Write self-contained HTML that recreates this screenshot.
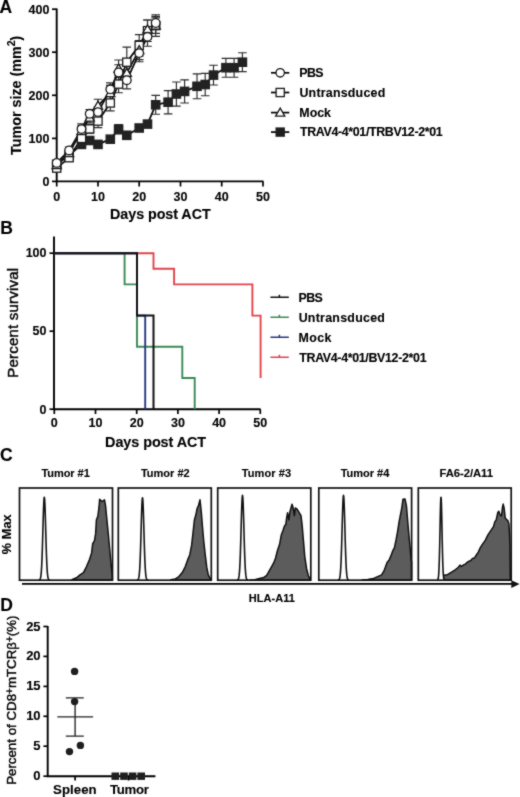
<!DOCTYPE html>
<html><head><meta charset="utf-8"><style>
html,body{margin:0;padding:0;background:#fff;}
svg{display:block;}
text{font-family:"Liberation Sans", sans-serif;fill:#000;stroke:#000;stroke-width:0.12px;}
text.reg{stroke-width:0.42px;}
svg{-webkit-font-smoothing:antialiased;will-change:transform;}
</style></head><body>
<svg width="520" height="797" viewBox="0 0 520 797">
<defs><filter id="soft" x="0" y="0" width="520" height="797" filterUnits="userSpaceOnUse" color-interpolation-filters="sRGB"><feConvolveMatrix order="3" kernelMatrix="1 2 1 2 16 2 1 2 1" divisor="28" edgeMode="duplicate"/></filter></defs>
<g filter="url(#soft)">
<rect width="520" height="797" fill="#fff"/>
<text x="-0.6" y="12.6" font-size="17.5" font-weight="bold">A</text>
<path d="M56.7,8.5 V181.4 H263.5" fill="none" stroke="#000" stroke-width="1.9"/>
<line x1="52" y1="181.4" x2="56.7" y2="181.4" stroke="#000" stroke-width="1.7"/>
<text x="49.4" y="185.7" font-size="12.5" font-weight="bold" text-anchor="end">0</text>
<line x1="52" y1="138.4" x2="56.7" y2="138.4" stroke="#000" stroke-width="1.7"/>
<text x="49.4" y="142.7" font-size="12.5" font-weight="bold" text-anchor="end">100</text>
<line x1="52" y1="95.3" x2="56.7" y2="95.3" stroke="#000" stroke-width="1.7"/>
<text x="49.4" y="99.6" font-size="12.5" font-weight="bold" text-anchor="end">200</text>
<line x1="52" y1="52.2" x2="56.7" y2="52.2" stroke="#000" stroke-width="1.7"/>
<text x="49.4" y="56.5" font-size="12.5" font-weight="bold" text-anchor="end">300</text>
<line x1="52" y1="9.2" x2="56.7" y2="9.2" stroke="#000" stroke-width="1.7"/>
<text x="49.4" y="13.5" font-size="12.5" font-weight="bold" text-anchor="end">400</text>
<line x1="56.7" y1="181.4" x2="56.7" y2="186.5" stroke="#000" stroke-width="1.7"/>
<text x="56.7" y="200.8" font-size="12.5" font-weight="bold" text-anchor="middle">0</text>
<line x1="98.0" y1="181.4" x2="98.0" y2="186.5" stroke="#000" stroke-width="1.7"/>
<text x="98.0" y="200.8" font-size="12.5" font-weight="bold" text-anchor="middle">10</text>
<line x1="139.2" y1="181.4" x2="139.2" y2="186.5" stroke="#000" stroke-width="1.7"/>
<text x="139.2" y="200.8" font-size="12.5" font-weight="bold" text-anchor="middle">20</text>
<line x1="180.5" y1="181.4" x2="180.5" y2="186.5" stroke="#000" stroke-width="1.7"/>
<text x="180.5" y="200.8" font-size="12.5" font-weight="bold" text-anchor="middle">30</text>
<line x1="221.7" y1="181.4" x2="221.7" y2="186.5" stroke="#000" stroke-width="1.7"/>
<text x="221.7" y="200.8" font-size="12.5" font-weight="bold" text-anchor="middle">40</text>
<line x1="263.0" y1="181.4" x2="263.0" y2="186.5" stroke="#000" stroke-width="1.7"/>
<text x="263.0" y="200.8" font-size="12.5" font-weight="bold" text-anchor="middle">50</text>
<text x="110.04" y="219.2" font-size="14.3" font-weight="bold" textLength="100.61" lengthAdjust="spacing">Days post ACT</text>
<text transform="translate(21,95.3) rotate(-90)" font-size="14.3" font-weight="bold" text-anchor="middle">Tumor size (mm<tspan font-size="10.5" dy="-6.5">2</tspan><tspan dy="6.5">)</tspan></text>
<path d="M56.7,165.9V170.2M52.4,165.9H61.0M52.4,170.2H61.0" stroke="#2a2a2a" stroke-width="1.15" fill="none"/>
<path d="M69.1,154.3V161.2M64.8,154.3H73.4M64.8,161.2H73.4" stroke="#2a2a2a" stroke-width="1.15" fill="none"/>
<path d="M81.5,133.2V143.5M77.2,133.2H85.8M77.2,143.5H85.8" stroke="#2a2a2a" stroke-width="1.15" fill="none"/>
<path d="M89.7,124.6V133.2M85.4,124.6H94.0M85.4,133.2H94.0" stroke="#2a2a2a" stroke-width="1.15" fill="none"/>
<path d="M98.0,114.7V127.6M93.7,114.7H102.3M93.7,127.6H102.3" stroke="#2a2a2a" stroke-width="1.15" fill="none"/>
<path d="M110.3,95.3V110.8M106.0,95.3H114.6M106.0,110.8H114.6" stroke="#2a2a2a" stroke-width="1.15" fill="none"/>
<path d="M118.6,75.5V92.7M114.3,75.5H122.9M114.3,92.7H122.9" stroke="#2a2a2a" stroke-width="1.15" fill="none"/>
<path d="M126.8,47.1V77.2M122.5,47.1H131.1M122.5,77.2H131.1" stroke="#2a2a2a" stroke-width="1.15" fill="none"/>
<path d="M139.2,34.6V56.1M134.9,34.6H143.5M134.9,56.1H143.5" stroke="#2a2a2a" stroke-width="1.15" fill="none"/>
<path d="M147.5,20.0V41.5M143.2,20.0H151.8M143.2,41.5H151.8" stroke="#2a2a2a" stroke-width="1.15" fill="none"/>
<path d="M155.7,14.8V36.3M151.4,14.8H160.0M151.4,36.3H160.0" stroke="#2a2a2a" stroke-width="1.15" fill="none"/>
<path d="M56.7,162.9V167.2M52.4,162.9H61.0M52.4,167.2H61.0" stroke="#2a2a2a" stroke-width="1.15" fill="none"/>
<path d="M69.1,149.5V156.4M64.8,149.5H73.4M64.8,156.4H73.4" stroke="#2a2a2a" stroke-width="1.15" fill="none"/>
<path d="M81.5,125.9V136.2M77.2,125.9H85.8M77.2,136.2H85.8" stroke="#2a2a2a" stroke-width="1.15" fill="none"/>
<path d="M89.7,112.5V122.9M85.4,112.5H94.0M85.4,122.9H94.0" stroke="#2a2a2a" stroke-width="1.15" fill="none"/>
<path d="M98.0,99.2V112.1M93.7,99.2H102.3M93.7,112.1H102.3" stroke="#2a2a2a" stroke-width="1.15" fill="none"/>
<path d="M110.3,85.4V100.9M106.0,85.4H114.6M106.0,100.9H114.6" stroke="#2a2a2a" stroke-width="1.15" fill="none"/>
<path d="M118.6,60.0V77.2M114.3,60.0H122.9M114.3,77.2H122.9" stroke="#2a2a2a" stroke-width="1.15" fill="none"/>
<path d="M126.8,64.3V81.5M122.5,64.3H131.1M122.5,81.5H131.1" stroke="#2a2a2a" stroke-width="1.15" fill="none"/>
<path d="M139.2,40.6V59.6M134.9,40.6H143.5M134.9,59.6H143.5" stroke="#2a2a2a" stroke-width="1.15" fill="none"/>
<path d="M147.5,20.0V38.9M143.2,20.0H151.8M143.2,38.9H151.8" stroke="#2a2a2a" stroke-width="1.15" fill="none"/>
<path d="M155.7,17.8V33.3M151.4,17.8H160.0M151.4,33.3H160.0" stroke="#2a2a2a" stroke-width="1.15" fill="none"/>
<path d="M56.7,160.7V165.0M52.4,160.7H61.0M52.4,165.0H61.0" stroke="#2a2a2a" stroke-width="1.15" fill="none"/>
<path d="M69.1,147.0V153.8M64.8,147.0H73.4M64.8,153.8H73.4" stroke="#2a2a2a" stroke-width="1.15" fill="none"/>
<path d="M81.5,123.9V134.3M77.2,123.9H85.8M77.2,134.3H85.8" stroke="#2a2a2a" stroke-width="1.15" fill="none"/>
<path d="M89.7,109.5V118.1M85.4,109.5H94.0M85.4,118.1H94.0" stroke="#2a2a2a" stroke-width="1.15" fill="none"/>
<path d="M98.0,106.9V117.3M93.7,106.9H102.3M93.7,117.3H102.3" stroke="#2a2a2a" stroke-width="1.15" fill="none"/>
<path d="M110.3,82.8V95.7M106.0,82.8H114.6M106.0,95.7H114.6" stroke="#2a2a2a" stroke-width="1.15" fill="none"/>
<path d="M118.6,64.7V80.2M114.3,64.7H122.9M114.3,80.2H122.9" stroke="#2a2a2a" stroke-width="1.15" fill="none"/>
<path d="M126.8,71.6V88.8M122.5,71.6H131.1M122.5,88.8H131.1" stroke="#2a2a2a" stroke-width="1.15" fill="none"/>
<path d="M139.2,44.5V61.7M134.9,44.5H143.5M134.9,61.7H143.5" stroke="#2a2a2a" stroke-width="1.15" fill="none"/>
<path d="M147.5,27.3V46.2M143.2,27.3H151.8M143.2,46.2H151.8" stroke="#2a2a2a" stroke-width="1.15" fill="none"/>
<path d="M155.7,16.5V29.4M151.4,16.5H160.0M151.4,29.4H160.0" stroke="#2a2a2a" stroke-width="1.15" fill="none"/>
<path d="M56.7,162.0V166.3M52.4,162.0H61.0M52.4,166.3H61.0" stroke="#2a2a2a" stroke-width="1.15" fill="none"/>
<path d="M69.1,153.0V158.2M64.8,153.0H73.4M64.8,158.2H73.4" stroke="#2a2a2a" stroke-width="1.15" fill="none"/>
<path d="M81.5,141.8V147.0M77.2,141.8H85.8M77.2,147.0H85.8" stroke="#2a2a2a" stroke-width="1.15" fill="none"/>
<path d="M89.7,137.9V143.1M85.4,137.9H94.0M85.4,143.1H94.0" stroke="#2a2a2a" stroke-width="1.15" fill="none"/>
<path d="M98.0,141.8V147.0M93.7,141.8H102.3M93.7,147.0H102.3" stroke="#2a2a2a" stroke-width="1.15" fill="none"/>
<path d="M110.3,136.2V142.2M106.0,136.2H114.6M106.0,142.2H114.6" stroke="#2a2a2a" stroke-width="1.15" fill="none"/>
<path d="M118.6,124.6V134.0M114.3,124.6H122.9M114.3,134.0H122.9" stroke="#2a2a2a" stroke-width="1.15" fill="none"/>
<path d="M126.8,131.9V138.8M122.5,131.9H131.1M122.5,138.8H131.1" stroke="#2a2a2a" stroke-width="1.15" fill="none"/>
<path d="M139.2,125.4V130.6M134.9,125.4H143.5M134.9,130.6H143.5" stroke="#2a2a2a" stroke-width="1.15" fill="none"/>
<path d="M147.5,121.6V126.7M143.2,121.6H151.8M143.2,126.7H151.8" stroke="#2a2a2a" stroke-width="1.15" fill="none"/>
<path d="M155.7,95.3V114.2M151.4,95.3H160.0M151.4,114.2H160.0" stroke="#2a2a2a" stroke-width="1.15" fill="none"/>
<path d="M168.1,90.6V113.8M163.8,90.6H172.4M163.8,113.8H172.4" stroke="#2a2a2a" stroke-width="1.15" fill="none"/>
<path d="M176.4,82.0V106.1M172.1,82.0H180.7M172.1,106.1H180.7" stroke="#2a2a2a" stroke-width="1.15" fill="none"/>
<path d="M184.6,79.8V103.0M180.3,79.8H188.9M180.3,103.0H188.9" stroke="#2a2a2a" stroke-width="1.15" fill="none"/>
<path d="M197.0,73.8V98.7M192.7,73.8H201.3M192.7,98.7H201.3" stroke="#2a2a2a" stroke-width="1.15" fill="none"/>
<path d="M205.2,73.3V95.7M200.9,73.3H209.5M200.9,95.7H209.5" stroke="#2a2a2a" stroke-width="1.15" fill="none"/>
<path d="M213.5,65.2V85.0M209.2,65.2H217.8M209.2,85.0H217.8" stroke="#2a2a2a" stroke-width="1.15" fill="none"/>
<path d="M225.9,58.3V77.2M221.6,58.3H230.2M221.6,77.2H230.2" stroke="#2a2a2a" stroke-width="1.15" fill="none"/>
<path d="M234.1,58.3V77.2M229.8,58.3H238.4M229.8,77.2H238.4" stroke="#2a2a2a" stroke-width="1.15" fill="none"/>
<path d="M242.4,52.7V71.6M238.1,52.7H246.7M238.1,71.6H246.7" stroke="#2a2a2a" stroke-width="1.15" fill="none"/>
<polyline points="56.7,168.1 69.1,157.7 81.5,138.4 89.7,128.9 98.0,121.1 110.3,103.0 118.6,84.1 126.8,62.2 139.2,45.4 147.5,30.7 155.7,25.6" fill="none" stroke="#111" stroke-width="1.8"/>
<polyline points="56.7,165.0 69.1,153.0 81.5,131.0 89.7,117.7 98.0,105.6 110.3,93.1 118.6,68.6 126.8,72.9 139.2,50.1 147.5,29.4 155.7,25.6" fill="none" stroke="#111" stroke-width="1.8"/>
<polyline points="56.7,162.9 69.1,150.4 81.5,129.1 89.7,113.8 98.0,112.1 110.3,89.3 118.6,72.5 126.8,80.2 139.2,53.1 147.5,36.8 155.7,23.0" fill="none" stroke="#111" stroke-width="1.8"/>
<polyline points="56.7,164.2 69.1,155.6 81.5,144.4 89.7,140.5 98.0,144.4 110.3,139.2 118.6,129.3 126.8,135.3 139.2,128.0 147.5,124.1 155.7,104.8 168.1,102.2 176.4,94.0 184.6,91.4 197.0,86.3 205.2,84.5 213.5,75.1 225.9,67.7 234.1,67.7 242.4,62.2" fill="none" stroke="#111" stroke-width="1.8"/>
<rect x="51.9" y="159.4" width="9.6" height="9.6" fill="#222"/>
<rect x="64.3" y="150.8" width="9.6" height="9.6" fill="#222"/>
<rect x="76.7" y="139.6" width="9.6" height="9.6" fill="#222"/>
<rect x="84.9" y="135.7" width="9.6" height="9.6" fill="#222"/>
<rect x="93.2" y="139.6" width="9.6" height="9.6" fill="#222"/>
<rect x="105.5" y="134.4" width="9.6" height="9.6" fill="#222"/>
<rect x="113.8" y="124.5" width="9.6" height="9.6" fill="#222"/>
<rect x="122.0" y="130.5" width="9.6" height="9.6" fill="#222"/>
<rect x="134.4" y="123.2" width="9.6" height="9.6" fill="#222"/>
<rect x="142.7" y="119.3" width="9.6" height="9.6" fill="#222"/>
<rect x="150.9" y="100.0" width="9.6" height="9.6" fill="#222"/>
<rect x="163.3" y="97.4" width="9.6" height="9.6" fill="#222"/>
<rect x="171.6" y="89.2" width="9.6" height="9.6" fill="#222"/>
<rect x="179.8" y="86.6" width="9.6" height="9.6" fill="#222"/>
<rect x="192.2" y="81.5" width="9.6" height="9.6" fill="#222"/>
<rect x="200.4" y="79.7" width="9.6" height="9.6" fill="#222"/>
<rect x="208.7" y="70.3" width="9.6" height="9.6" fill="#222"/>
<rect x="221.1" y="62.9" width="9.6" height="9.6" fill="#222"/>
<rect x="229.3" y="62.9" width="9.6" height="9.6" fill="#222"/>
<rect x="237.6" y="57.4" width="9.6" height="9.6" fill="#222"/>
<rect x="52.6" y="164.0" width="8.2" height="8.2" fill="#fff" stroke="#1a1a1a" stroke-width="1.3"/>
<rect x="65.0" y="153.6" width="8.2" height="8.2" fill="#fff" stroke="#1a1a1a" stroke-width="1.3"/>
<rect x="77.4" y="134.3" width="8.2" height="8.2" fill="#fff" stroke="#1a1a1a" stroke-width="1.3"/>
<rect x="85.6" y="124.8" width="8.2" height="8.2" fill="#fff" stroke="#1a1a1a" stroke-width="1.3"/>
<rect x="93.9" y="117.0" width="8.2" height="8.2" fill="#fff" stroke="#1a1a1a" stroke-width="1.3"/>
<rect x="106.2" y="98.9" width="8.2" height="8.2" fill="#fff" stroke="#1a1a1a" stroke-width="1.3"/>
<rect x="114.5" y="80.0" width="8.2" height="8.2" fill="#fff" stroke="#1a1a1a" stroke-width="1.3"/>
<rect x="122.7" y="58.1" width="8.2" height="8.2" fill="#fff" stroke="#1a1a1a" stroke-width="1.3"/>
<rect x="135.1" y="41.3" width="8.2" height="8.2" fill="#fff" stroke="#1a1a1a" stroke-width="1.3"/>
<rect x="143.4" y="26.6" width="8.2" height="8.2" fill="#fff" stroke="#1a1a1a" stroke-width="1.3"/>
<rect x="151.6" y="21.5" width="8.2" height="8.2" fill="#fff" stroke="#1a1a1a" stroke-width="1.3"/>
<path d="M56.7,160.5L61.3,168.5H52.1Z" fill="#fff" stroke="#1a1a1a" stroke-width="1.3"/>
<path d="M69.1,148.5L73.7,156.5H64.5Z" fill="#fff" stroke="#1a1a1a" stroke-width="1.3"/>
<path d="M81.5,126.5L86.1,134.5H76.9Z" fill="#fff" stroke="#1a1a1a" stroke-width="1.3"/>
<path d="M89.7,113.2L94.3,121.2H85.1Z" fill="#fff" stroke="#1a1a1a" stroke-width="1.3"/>
<path d="M98.0,101.1L102.6,109.1H93.4Z" fill="#fff" stroke="#1a1a1a" stroke-width="1.3"/>
<path d="M110.3,88.6L114.9,96.6H105.7Z" fill="#fff" stroke="#1a1a1a" stroke-width="1.3"/>
<path d="M118.6,64.1L123.2,72.1H114.0Z" fill="#fff" stroke="#1a1a1a" stroke-width="1.3"/>
<path d="M126.8,68.4L131.4,76.4H122.2Z" fill="#fff" stroke="#1a1a1a" stroke-width="1.3"/>
<path d="M139.2,45.6L143.8,53.6H134.6Z" fill="#fff" stroke="#1a1a1a" stroke-width="1.3"/>
<path d="M147.5,24.9L152.1,32.9H142.9Z" fill="#fff" stroke="#1a1a1a" stroke-width="1.3"/>
<path d="M155.7,21.1L160.3,29.1H151.1Z" fill="#fff" stroke="#1a1a1a" stroke-width="1.3"/>
<circle cx="56.7" cy="162.9" r="4.3" fill="#fff" stroke="#1a1a1a" stroke-width="1.3"/>
<circle cx="69.1" cy="150.4" r="4.3" fill="#fff" stroke="#1a1a1a" stroke-width="1.3"/>
<circle cx="81.5" cy="129.1" r="4.3" fill="#fff" stroke="#1a1a1a" stroke-width="1.3"/>
<circle cx="89.7" cy="113.8" r="4.3" fill="#fff" stroke="#1a1a1a" stroke-width="1.3"/>
<circle cx="98.0" cy="112.1" r="4.3" fill="#fff" stroke="#1a1a1a" stroke-width="1.3"/>
<circle cx="110.3" cy="89.3" r="4.3" fill="#fff" stroke="#1a1a1a" stroke-width="1.3"/>
<circle cx="118.6" cy="72.5" r="4.3" fill="#fff" stroke="#1a1a1a" stroke-width="1.3"/>
<circle cx="126.8" cy="80.2" r="4.3" fill="#fff" stroke="#1a1a1a" stroke-width="1.3"/>
<circle cx="139.2" cy="53.1" r="4.3" fill="#fff" stroke="#1a1a1a" stroke-width="1.3"/>
<circle cx="147.5" cy="36.8" r="4.3" fill="#fff" stroke="#1a1a1a" stroke-width="1.3"/>
<circle cx="155.7" cy="23.0" r="4.3" fill="#fff" stroke="#1a1a1a" stroke-width="1.3"/>
<line x1="271" y1="72.8" x2="289.3" y2="72.8" stroke="#000" stroke-width="1.7"/>
<circle cx="280.2" cy="72.8" r="4.2" fill="#fff" stroke="#1a1a1a" stroke-width="1.3"/>
<text x="299.37" y="77.0" font-size="12.4" font-weight="bold" textLength="24.21" lengthAdjust="spacing">PBS</text>
<line x1="271" y1="92.5" x2="289.3" y2="92.5" stroke="#000" stroke-width="1.7"/>
<rect x="276.09999999999997" y="88.4" width="8.2" height="8.2" fill="#fff" stroke="#1a1a1a" stroke-width="1.3"/>
<text x="299.46" y="96.7" font-size="12.4" font-weight="bold" textLength="85.76" lengthAdjust="spacing">Untransduced</text>
<line x1="271" y1="112.6" x2="289.3" y2="112.6" stroke="#000" stroke-width="1.7"/>
<path d="M280.2,108.1L284.8,116.1H275.59999999999997Z" fill="#fff" stroke="#1a1a1a" stroke-width="1.3"/>
<text x="299.37" y="116.8" font-size="12.4" font-weight="bold" textLength="31.62" lengthAdjust="spacing">Mock</text>
<line x1="271" y1="132.1" x2="289.3" y2="132.1" stroke="#000" stroke-width="1.7"/>
<rect x="275.5" y="127.39999999999999" width="9.4" height="9.4" fill="#1e1e1e"/>
<text x="300.06" y="136.3" font-size="12.4" font-weight="bold" textLength="142.58" lengthAdjust="spacing">TRAV4-4*01/TRBV12-2*01</text>
<text x="0.2" y="233.6" font-size="17.5" font-weight="bold">B</text>
<path d="M54.0,236.5 V409.2 H260.5" fill="none" stroke="#000" stroke-width="1.9"/>
<line x1="49.5" y1="409.2" x2="54.0" y2="409.2" stroke="#000" stroke-width="1.7"/>
<text x="46.5" y="413.6" font-size="12.5" font-weight="bold" text-anchor="end">0</text>
<line x1="49.5" y1="331.2" x2="54.0" y2="331.2" stroke="#000" stroke-width="1.7"/>
<text x="46.5" y="334.6" font-size="12.5" font-weight="bold" text-anchor="end">50</text>
<line x1="49.5" y1="253.2" x2="54.0" y2="253.2" stroke="#000" stroke-width="1.7"/>
<text x="46.5" y="256.6" font-size="12.5" font-weight="bold" text-anchor="end">100</text>
<line x1="54.3" y1="409.2" x2="54.3" y2="414" stroke="#000" stroke-width="1.7"/>
<text x="54.3" y="427.4" font-size="12.5" font-weight="bold" text-anchor="middle">0</text>
<line x1="95.5" y1="409.2" x2="95.5" y2="414" stroke="#000" stroke-width="1.7"/>
<text x="95.5" y="427.4" font-size="12.5" font-weight="bold" text-anchor="middle">10</text>
<line x1="136.7" y1="409.2" x2="136.7" y2="414" stroke="#000" stroke-width="1.7"/>
<text x="136.7" y="427.4" font-size="12.5" font-weight="bold" text-anchor="middle">20</text>
<line x1="177.9" y1="409.2" x2="177.9" y2="414" stroke="#000" stroke-width="1.7"/>
<text x="177.9" y="427.4" font-size="12.5" font-weight="bold" text-anchor="middle">30</text>
<line x1="219.1" y1="409.2" x2="219.1" y2="414" stroke="#000" stroke-width="1.7"/>
<text x="219.1" y="427.4" font-size="12.5" font-weight="bold" text-anchor="middle">40</text>
<line x1="260.3" y1="409.2" x2="260.3" y2="414" stroke="#000" stroke-width="1.7"/>
<text x="260.3" y="427.4" font-size="12.5" font-weight="bold" text-anchor="middle">50</text>
<text x="105.04" y="447" font-size="14.4" font-weight="bold" textLength="101.12" lengthAdjust="spacing">Days post ACT</text>
<text transform="translate(17.5,377.73) rotate(-90)" font-size="15" class="reg" textLength="109.93" lengthAdjust="spacing">Percent survival</text>
<path d="M54.0,253.2H153.5V253.2H153.5V268.8H174.1V268.8H174.1V284.4H252.4V284.4H252.4V315.6H260.6V315.6H260.6V378.0" fill="none" stroke="#e0444a" stroke-width="1.9"/>
<path d="M54.0,253.2H124.6V253.2H124.6V284.4H137.0V284.4H137.0V346.8H182.3V346.8H182.3V378.0H194.7V378.0H194.7V409.2" fill="none" stroke="#3b8a55" stroke-width="1.9"/>
<path d="M54.0,253.2H137.0V253.2H137.0V315.6H145.2V315.6H145.2V409.2" fill="none" stroke="#27397c" stroke-width="1.9"/>
<path d="M54.0,253.2H137.0V253.2H137.0V315.6H153.5V315.6H153.5V409.2" fill="none" stroke="#111" stroke-width="2.0"/>
<path d="M270.4,297.3H288.8M279.4,297.3V294.7" stroke="#111" stroke-width="1.5" fill="none"/>
<text x="298.57" y="301.5" font-size="12.4" font-weight="bold" textLength="24.21" lengthAdjust="spacing">PBS</text>
<path d="M270.4,317.3H288.8M279.4,317.3V314.7" stroke="#3b8a55" stroke-width="1.5" fill="none"/>
<text x="298.66" y="321.5" font-size="12.4" font-weight="bold" textLength="86.26" lengthAdjust="spacing">Untransduced</text>
<path d="M270.4,337.3H288.8M279.4,337.3V334.7" stroke="#27397c" stroke-width="1.5" fill="none"/>
<text x="298.57" y="341.5" font-size="12.4" font-weight="bold" textLength="32.82" lengthAdjust="spacing">Mock</text>
<path d="M270.4,357.3H288.8M279.4,357.3V354.7" stroke="#e0444a" stroke-width="1.5" fill="none"/>
<text x="299.26" y="361.5" font-size="12.4" font-weight="bold" textLength="127.28" lengthAdjust="spacing">TRAV4-4*01/BV12-2*01</text>
<text x="0" y="461.4" font-size="17.5" font-weight="bold">C</text>
<path d="M71.9,580.2L71.9,579.8L76.5,577.8L80,574.9L83.5,572.6L86.4,566.8L89.2,560.4L91.6,552.9L92.7,543.7L94.4,540.8L95.6,533.9L96.4,520L97.9,516L99.1,506.2L99.6,499.2L102,501.5L104.5,499.8L105.6,506.2L106.8,518.9L108.3,533.9L110,552.4L111.2,565.1L112.3,575.5L112.3,580.2Z" fill="#5c5c5c" stroke="#111" stroke-width="1.5" stroke-linejoin="round"/>
<polyline points="38.70,580.17 38.98,580.14 39.26,580.07 39.54,579.94 39.82,579.70 40.10,579.28 40.38,578.55 40.66,577.37 40.94,575.54 41.22,572.82 41.50,568.97 41.78,563.77 42.06,557.12 42.34,549.05 42.62,539.80 42.90,529.86 43.18,519.93 43.46,510.87 43.74,503.58 44.02,498.84 44.30,497.20 44.58,498.84 44.86,503.58 45.14,510.87 45.42,519.93 45.70,529.86 45.98,539.80 46.26,549.05 46.54,557.12 46.82,563.77 47.10,568.97 47.38,572.82 47.66,575.54 47.94,577.37 48.22,578.55 48.50,579.28 48.78,579.70 49.06,579.94 49.34,580.07 49.62,580.14 49.90,580.17" fill="#fff" stroke="#111" stroke-width="1.6" stroke-linejoin="round"/>
<rect x="19.5" y="488.0" width="93.0" height="92.2" fill="none" stroke="#111" stroke-width="1.7"/>
<text x="41.38" y="477.3" font-size="11" font-weight="bold" textLength="48.43" lengthAdjust="spacing">Tumor #1</text>
<path d="M170.8,580.2L170.8,579.8L175.4,578.9L178.9,576.6L182.3,572.6L185.2,566.8L187.5,560.4L189.8,554.7L191.6,545.4L192.9,533.9L194.4,520L195.9,514.8L197.1,508.5L198.5,505.6L200,499.8L201.4,513.1L202.5,527L203.7,540.8L205.2,554.7L206.8,567.4L208.3,574.9L210.3,578.9L210.3,580.2Z" fill="#5c5c5c" stroke="#111" stroke-width="1.5" stroke-linejoin="round"/>
<polyline points="136.90,580.17 137.18,580.14 137.46,580.07 137.74,579.95 138.02,579.71 138.30,579.28 138.58,578.56 138.86,577.39 139.14,575.57 139.42,572.86 139.70,569.03 139.98,563.87 140.26,557.26 140.54,549.24 140.82,540.04 141.10,530.16 141.38,520.29 141.66,511.29 141.94,504.04 142.22,499.33 142.50,497.70 142.78,499.33 143.06,504.04 143.34,511.29 143.62,520.29 143.90,530.16 144.18,540.04 144.46,549.24 144.74,557.26 145.02,563.87 145.30,569.03 145.58,572.86 145.86,575.57 146.14,577.39 146.42,578.56 146.70,579.28 146.98,579.71 147.26,579.95 147.54,580.07 147.82,580.14 148.10,580.17" fill="#fff" stroke="#111" stroke-width="1.6" stroke-linejoin="round"/>
<rect x="118.3" y="488.0" width="93.0" height="92.2" fill="none" stroke="#111" stroke-width="1.7"/>
<text x="140.88" y="477.3" font-size="11" font-weight="bold" textLength="48.76" lengthAdjust="spacing">Tumor #2</text>
<path d="M250,580.2L250,580L254.8,579.7L259.5,578.5L263.7,577.6L266.7,575.3L269.1,571.1L271.5,566.9L273.8,562.7L275.6,558L277.4,550.8L279.6,544.3L281.2,535.3L282.8,531.1L284.6,525.8L285.8,524.6L286.7,517.4L287.6,512.7L288.8,519.8L290,511.5L292,504.3L293.2,507.9L294.4,515.6L295.3,507.9L297.1,509.1L298.9,512.1L301,515.6L302.2,525.8L303.4,540.1L304.8,556.8L306.6,568.7L308.4,575.8L310.2,579.4L310.2,580.2Z" fill="#5c5c5c" stroke="#111" stroke-width="1.5" stroke-linejoin="round"/>
<polyline points="236.90,580.17 237.18,580.14 237.46,580.07 237.74,579.94 238.02,579.69 238.30,579.26 238.58,578.52 238.86,577.31 239.14,575.44 239.42,572.66 239.70,568.72 239.98,563.42 240.26,556.62 240.54,548.37 240.82,538.92 241.10,528.77 241.38,518.62 241.66,509.37 241.94,501.92 242.22,497.08 242.50,495.40 242.78,497.08 243.06,501.92 243.34,509.37 243.62,518.62 243.90,528.77 244.18,538.92 244.46,548.37 244.74,556.62 245.02,563.42 245.30,568.72 245.58,572.66 245.86,575.44 246.14,577.31 246.42,578.52 246.70,579.26 246.98,579.69 247.26,579.94 247.54,580.07 247.82,580.14 248.10,580.17" fill="#fff" stroke="#111" stroke-width="1.6" stroke-linejoin="round"/>
<rect x="217.7" y="488.0" width="93.1" height="92.2" fill="none" stroke="#111" stroke-width="1.7"/>
<text x="241.78" y="477.3" font-size="11" font-weight="bold" textLength="49.22" lengthAdjust="spacing">Tumor #3</text>
<path d="M362,580.2L362,579.9L367.8,579.6L373.6,578.4L378.2,576.4L381.6,574.9L384,570.9L385.7,566.3L387.2,562.2L389.2,559.9L390.9,555.9L392.6,551.2L394.4,547.8L396.1,539.7L397.6,531.6L399,522.4L400.1,516.6L401.9,507.3L403,499.2L405,499L406.5,506.2L407.6,520L408.8,533.9L410.3,550.1L411.1,559.3L411.6,562L411.6,580.2Z" fill="#5c5c5c" stroke="#111" stroke-width="1.5" stroke-linejoin="round"/>
<polyline points="337.90,580.17 338.18,580.14 338.46,580.07 338.74,579.94 339.02,579.69 339.30,579.26 339.58,578.52 339.86,577.31 340.14,575.44 340.42,572.66 340.70,568.72 340.98,563.42 341.26,556.62 341.54,548.37 341.82,538.92 342.10,528.77 342.38,518.62 342.66,509.37 342.94,501.92 343.22,497.08 343.50,495.40 343.78,497.08 344.06,501.92 344.34,509.37 344.62,518.62 344.90,528.77 345.18,538.92 345.46,548.37 345.74,556.62 346.02,563.42 346.30,568.72 346.58,572.66 346.86,575.44 347.14,577.31 347.42,578.52 347.70,579.26 347.98,579.69 348.26,579.94 348.54,580.07 348.82,580.14 349.10,580.17" fill="#fff" stroke="#111" stroke-width="1.6" stroke-linejoin="round"/>
<rect x="318.8" y="488.0" width="92.8" height="92.2" fill="none" stroke="#111" stroke-width="1.7"/>
<text x="340.68" y="477.3" font-size="11" font-weight="bold" textLength="48.58" lengthAdjust="spacing">Tumor #4</text>
<path d="M439.6,580.2L439.6,579.9L441.5,577.5L443.7,575.2L447.5,574.7L450.4,572.8L452.8,571.3L455.2,569.9L458.1,567.5L460,565.1L461.5,566.5L463.9,564.6L465.3,564.1L466.8,562.7L468.7,561.3L470.6,560.8L472.5,558.4L474.5,557.9L476.4,555L478.3,552.1L480.2,547.8L482.2,544.6L485.4,540.1L488.1,534.7L490.8,530.7L493.5,526.6L494.8,521.9L496.2,519.9L497.8,512.5L498.8,511.2L500.2,515.2L501.5,515.9L502.5,507.1L503.2,504.1L504.2,508.5L505.2,517.9L506.6,519.6L507.9,520.6L508.9,523.9L509.6,535.4L509.9,545L510.3,579.9L510.3,580.2Z" fill="#5c5c5c" stroke="#111" stroke-width="1.5" stroke-linejoin="round"/>
<polyline points="437.00,580.17 437.20,580.14 437.40,580.07 437.60,579.94 437.80,579.70 438.00,579.28 438.20,578.55 438.40,577.37 438.60,575.54 438.80,572.82 439.00,568.97 439.20,563.77 439.40,557.12 439.60,549.05 439.80,539.80 440.00,529.86 440.20,519.93 440.40,510.87 440.60,503.58 440.80,498.84 441.00,497.20 441.20,498.84 441.40,503.58 441.60,510.87 441.80,519.93 442.00,529.86 442.20,539.80 442.40,549.05 442.60,557.12 442.80,563.77 443.00,568.97 443.20,572.82 443.40,575.54 443.60,577.37 443.80,578.55 444.00,579.28 444.20,579.70 444.40,579.94 444.60,580.07 444.80,580.14 445.00,580.17" fill="#fff" stroke="#111" stroke-width="1.6" stroke-linejoin="round"/>
<rect x="418.3" y="488.0" width="92.9" height="92.2" fill="none" stroke="#111" stroke-width="1.7"/>
<text x="439.44" y="477.3" font-size="11.3" font-weight="bold" textLength="53.57" lengthAdjust="spacing">FA6-2/A11</text>
<line x1="22" y1="583.9" x2="512" y2="583.9" stroke="#000" stroke-width="1.7"/>
<path d="M511.3,580.3 L519.6,584 L511.3,588 Z" fill="#111"/>
<text x="248.76" y="601.8" font-size="11" font-weight="bold" textLength="46.14" lengthAdjust="spacing">HLA-A11</text>
<text transform="translate(11.3,554.31) rotate(-90)" font-size="12.6" font-weight="bold" textLength="39.91" lengthAdjust="spacing">% Max</text>
<text x="0.2" y="611.4" font-size="17.5" font-weight="bold">D</text>
<path d="M47.7,626.0 V776.2 H155.4" fill="none" stroke="#000" stroke-width="1.9"/>
<line x1="43.4" y1="776.2" x2="47.7" y2="776.2" stroke="#000" stroke-width="1.7"/>
<text x="40.6" y="780.2" font-size="13" font-weight="bold" text-anchor="end">0</text>
<line x1="43.4" y1="746.2" x2="47.7" y2="746.2" stroke="#000" stroke-width="1.7"/>
<text x="40.6" y="750.2" font-size="13" font-weight="bold" text-anchor="end">5</text>
<line x1="43.4" y1="716.3" x2="47.7" y2="716.3" stroke="#000" stroke-width="1.7"/>
<text x="40.6" y="720.3" font-size="13" font-weight="bold" text-anchor="end">10</text>
<line x1="43.4" y1="686.4" x2="47.7" y2="686.4" stroke="#000" stroke-width="1.7"/>
<text x="40.6" y="690.4" font-size="13" font-weight="bold" text-anchor="end">15</text>
<line x1="43.4" y1="656.4" x2="47.7" y2="656.4" stroke="#000" stroke-width="1.7"/>
<text x="40.6" y="660.4" font-size="13" font-weight="bold" text-anchor="end">20</text>
<line x1="43.4" y1="626.5" x2="47.7" y2="626.5" stroke="#000" stroke-width="1.7"/>
<text x="40.6" y="630.5" font-size="13" font-weight="bold" text-anchor="end">25</text>
<line x1="75.1" y1="776.2" x2="75.1" y2="780.5" stroke="#000" stroke-width="1.7"/>
<line x1="128.5" y1="776.2" x2="128.5" y2="780.5" stroke="#000" stroke-width="1.7"/>
<text x="53.12" y="793.6" font-size="13.2" font-weight="bold" textLength="43.50" lengthAdjust="spacing">Spleen</text>
<text x="110.05" y="793.6" font-size="13.2" font-weight="bold" textLength="38.85" lengthAdjust="spacing">Tumor</text>
<path d="M57.3,716.9H93.1 M75.1,697.9V736.1 M65.8,697.9H83.8 M65.8,736.1H83.8" stroke="#222" stroke-width="1.35" fill="none"/>
<circle cx="74.6" cy="671.4" r="3.7" fill="#1e1e1e"/>
<circle cx="74.6" cy="701.6" r="3.7" fill="#1e1e1e"/>
<circle cx="80.4" cy="745.4" r="3.7" fill="#1e1e1e"/>
<circle cx="69.5" cy="751.6" r="3.7" fill="#1e1e1e"/>
<rect x="111.5" y="772.5" width="7.6" height="7.4" fill="#1e1e1e"/>
<rect x="120.2" y="772.5" width="7.6" height="7.4" fill="#1e1e1e"/>
<rect x="128.8" y="772.5" width="7.6" height="7.4" fill="#1e1e1e"/>
<rect x="137.4" y="772.5" width="7.6" height="7.4" fill="#1e1e1e"/>
<text class="reg" transform="translate(16.4,700.2) rotate(-90)" font-size="13.3" text-anchor="middle">Percent of CD8<tspan font-size="10" dy="-3.2">+</tspan><tspan dy="3.2">mTCRβ</tspan><tspan font-size="10" dy="-3.2">+</tspan><tspan dy="3.2">(%)</tspan></text>
</g>
</svg>
</body></html>
